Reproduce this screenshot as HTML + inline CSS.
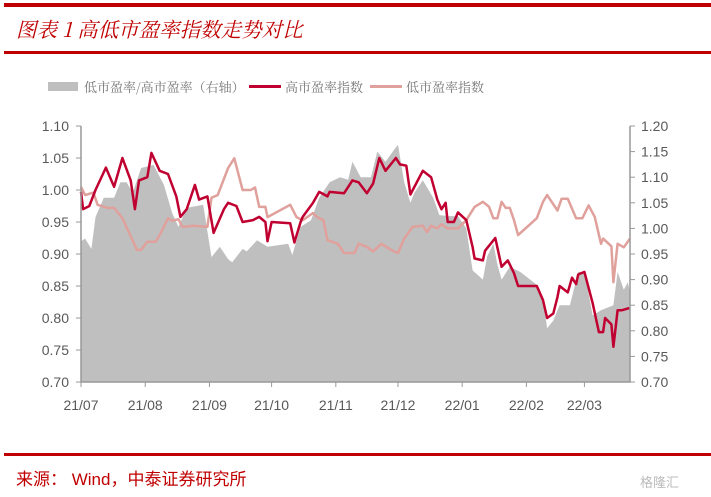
<!DOCTYPE html>
<html><head><meta charset="utf-8"><style>
body{margin:0;background:#fff;width:711px;height:497px;overflow:hidden;font-family:"Liberation Sans","Noto Sans CJK SC",sans-serif;}
svg{display:block}
</style></head><body>
<svg id="chart" width="711" height="497" xmlns="http://www.w3.org/2000/svg">
<rect x="4" y="3" width="707" height="4" fill="#c00000"/>
<text x="16" y="37" font-size="20.5" font-style="italic" fill="#c00000" font-family="'Noto Serif CJK SC','Liberation Serif',serif">图表 1 高低市盈率指数走势对比</text>
<rect x="4" y="51" width="707" height="3" fill="#c00000"/>
<g font-size="13" fill="#777" font-family="'Noto Serif CJK SC',serif">
<rect x="48" y="82" width="30" height="9" fill="#bfbfbf"/>
<text x="84" y="92">低市盈率/高市盈率（右轴）</text>
<rect x="249" y="85" width="32" height="3" fill="#c00030"/>
<text x="285" y="92">高市盈率指数</text>
<rect x="370" y="85" width="32" height="3" fill="#e0a09c"/>
<text x="406" y="92">低市盈率指数</text>
</g>
<g id="plot"></g>
<rect x="4" y="453" width="707" height="3" fill="#c00000"/>
<text x="16" y="485" font-size="17" fill="#c00000">来源：  Wind，中泰证券研究所</text>
<text x="640" y="487" font-size="13" fill="#bbb">格隆汇</text>
</svg>
<script>
const highDays=[0,1,4,7,12,14,16,20,24,26,28,32,34,38,42,46,48,51,55,57,61,64,69,71,75,78,83,86,89,90,92,101,103,106,107,112,115,119,120,127,131,134,138,141,144,147,152,154,157,159,165,169,172,174,176,177,180,182,186,189,190,194,195,200,203,206,209,211,220,223,225,228,230,231,235,237,239,240,243,247,250,252,253,256,257,259,261,264,265];
const highVals=[0.997,0.97,0.975,1.0,1.035,1.02,1.005,1.05,1.015,0.97,1.015,1.02,1.058,1.03,1.025,0.99,0.958,0.97,1.008,0.985,0.99,0.933,0.97,0.98,0.975,0.95,0.953,0.958,0.95,0.92,0.95,0.948,0.918,0.95,0.958,0.98,0.997,0.99,0.997,0.995,1.015,1.012,0.995,1.01,1.05,1.03,1.05,1.04,1.038,0.993,1.03,1.02,0.985,0.97,0.98,0.95,0.95,0.965,0.953,0.911,0.893,0.89,0.905,0.925,0.88,0.89,0.87,0.85,0.85,0.828,0.80,0.807,0.833,0.85,0.84,0.863,0.853,0.868,0.872,0.823,0.778,0.778,0.80,0.79,0.755,0.812,0.812,0.815,0.815];
const lowDays=[0,2,6,8,13,16,20,27,29,32,36,38,42,44,47,49,54,61,63,66,71,74,78,82,84,86,89,90,101,104,107,112,114,117,119,124,127,132,134,138,141,145,151,153,156,160,165,167,169,172,174,177,182,186,190,194,197,199,201,203,205,207,209,211,220,223,225,230,232,235,239,242,245,248,251,252,256,257,259,262,265];
const lowVals=[1.081,1.065,1.07,1.046,1.04,1.04,1.02,0.958,0.958,0.974,0.974,0.987,1.02,1.015,1.018,1.003,1.005,1.003,1.06,1.065,1.118,1.137,1.075,1.075,1.08,1.042,1.042,1.022,1.046,1.022,1.016,1.03,1.022,1.016,0.977,0.97,0.952,0.952,0.97,0.964,0.955,0.97,0.955,0.952,0.98,1.003,1.005,0.993,1.005,1.0,1.008,1.0,1.0,1.016,1.042,1.052,1.042,1.02,1.02,1.052,1.04,1.04,1.016,0.987,1.02,1.052,1.065,1.035,1.058,1.058,1.02,1.02,1.045,1.022,0.97,0.98,0.965,0.895,0.97,0.963,0.98];
const ratioDays=[0,2,5,7,11,16,19,22,25,29,35,40,44,47,51,59,63,67,71,73,78,80,85,90,100,102,106,111,115,120,125,129,131,135,140,143,147,151,153,156,159,161,165,170,173,178,182,186,189,194,196,199,201,203,207,212,220,223,225,228,231,236,240,243,247,251,257,259,262,264,265];
const ratioVals=[0.975,0.98,0.96,1.022,1.06,1.06,1.09,1.09,1.07,1.118,1.124,1.085,1.03,1.003,1.04,1.046,0.944,0.964,0.94,0.934,0.96,0.955,0.977,0.964,0.97,0.948,1.003,1.016,1.06,1.09,1.1,1.095,1.13,1.1,1.1,1.15,1.13,1.153,1.163,1.09,1.05,1.07,1.094,1.06,1.026,1.024,1.024,1.0,0.918,0.9,0.945,0.97,0.93,0.9,0.925,0.915,0.89,0.865,0.805,0.82,0.85,0.85,0.915,0.915,0.83,0.84,0.85,0.915,0.88,0.895,0.875];
const leftTicks=["0.70","0.75","0.80","0.85","0.90","0.95","1.00","1.05","1.10"];
const rightTicks=["0.70","0.75","0.80","0.85","0.90","0.95","1.00","1.05","1.10","1.15","1.20"];
const monthLabels=["21/07","21/08","21/09","21/10","21/11","21/12","22/01","22/02","22/03"];
const monthDays=[0,31,62,92,123,153,184,215,243];

const NS="http://www.w3.org/2000/svg";
const X0=81,X1=630,YT=126,YB=382;
const xs=d=>X0+d*(X1-X0)/265;
const yl=v=>YB-(v-0.70)/(1.10-0.70)*(YB-YT);
const yr=v=>YB-(v-0.70)/(1.20-0.70)*(YB-YT);
const plot=document.getElementById('plot');
function mk(tag,attrs){const e=document.createElementNS(NS,tag);for(const k in attrs)e.setAttribute(k,attrs[k]);plot.appendChild(e);return e;}

let d="M"+xs(ratioDays[0])+","+YB;
ratioDays.forEach((t,i)=>{d+=" L"+xs(t).toFixed(1)+","+yr(ratioVals[i]).toFixed(1);});
d+=" L"+xs(ratioDays[ratioDays.length-1])+","+YB+" Z";
const area=mk('path',{d:d,fill:'#bfbfbf'});



function line(days,vals,sc,col,name){
  const pd=days.map((t,i)=>(i?"L":"M")+xs(t).toFixed(1)+","+sc(vals[i]).toFixed(1)).join(" ");
  const p=mk('path',{d:pd,fill:'none',stroke:col,'stroke-width':2.5,'stroke-linejoin':'round'});
  
  
}
line(lowDays,lowVals,yr,'#e0a09c','low-pe-index-line');
line(highDays,highVals,yl,'#c00030','high-pe-index-line');

const la=mk('path',{d:`M${X0},${YT} V${YB} H${X1} V${YT}`,fill:'none',stroke:'#999','stroke-width':1.5});


leftTicks.forEach(s=>{const v=parseFloat(s),y=yl(v);
  mk('line',{x1:X0-5,x2:X0,y1:y,y2:y,stroke:'#999'});
  const t=mk('text',{x:X0-12,y:y+5,'text-anchor':'end','font-size':14,fill:'#595959'});t.textContent=s;
  
  });
rightTicks.forEach(s=>{const v=parseFloat(s),y=yr(v);
  mk('line',{x1:X1,x2:X1+5,y1:y,y2:y,stroke:'#999'});
  const t=mk('text',{x:X1+11,y:y+5,'font-size':14,fill:'#595959'});t.textContent=s;
  
  });
monthLabels.forEach((s,i)=>{const x=xs(monthDays[i]);
  mk('line',{x1:x,x2:x,y1:YB,y2:YB+5,stroke:'#999'});
  const t=mk('text',{x:x,y:YB+28,'text-anchor':'middle','font-size':14,fill:'#595959'});t.textContent=s;
  
  });
</script>
</body></html>
